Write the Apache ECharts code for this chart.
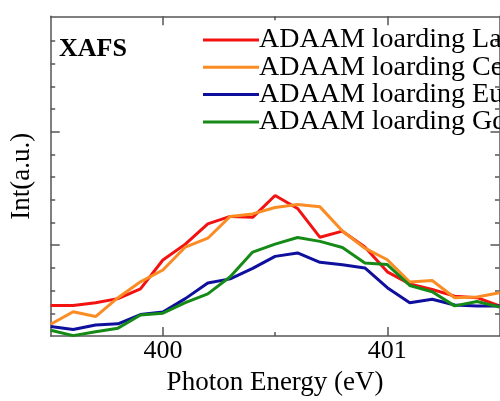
<!DOCTYPE html>
<html>
<head>
<meta charset="utf-8">
<script src="https://cdn.jsdelivr.net/npm/echarts@6/dist/echarts.min.js"></script>
<style>html,body{margin:0;padding:0;background:#fff;}#c{width:500px;height:401px;}</style>
</head>
<body>
<div id="c"></div>
<script>
// Photon energy (eV), 0.1 eV steps
const energy = [399.5,399.6,399.7,399.8,399.9,400.0,400.1,400.2,400.3,400.4,400.5,400.6,400.7,400.8,400.9,401.0,401.1,401.2,401.3,401.4,401.5];
// Intensity (a.u.)
const la = [1.35,1.35,1.47,1.65,2.08,3.35,4.05,4.94,5.27,5.23,6.19,5.62,4.35,4.62,3.92,2.83,2.30,2.05,1.76,1.69,1.33];
const ce = [0.52,1.07,0.86,1.69,2.39,2.91,3.92,4.31,5.27,5.38,5.66,5.79,5.69,4.63,3.87,3.36,2.38,2.45,1.69,1.72,1.91];
const eu = [0.42,0.29,0.49,0.54,0.95,1.06,1.65,2.34,2.52,2.98,3.51,3.66,3.25,3.14,3.00,2.13,1.47,1.62,1.37,1.33,1.33];
const gd = [0.26,0.02,0.19,0.35,0.93,1.01,1.47,1.86,2.61,3.70,4.05,4.34,4.17,3.90,3.22,3.15,2.23,1.95,1.33,1.52,1.28];
const seriesNames = ['ADAAM loarding La','ADAAM loarding Ce','ADAAM loarding Eu','ADAAM loarding Gd'];
const seriesColors = ['#f21212','#fb8c23','#0f0f9e','#168a16'];
const xMajorTicks = [400, 401];
const xMinorTicks = [400.5];
const yMajorTicks = [4, 9];
const yMinorTicks = [1,2,3,5,6,7,8,10,11,12,13];

const FONT = '"Liberation Serif","Times New Roman",serif';
const axisColor = '#555';
const X_MIN = 399.5, X_MAX = 401.5, Y_MIN = 0, Y_MAX = 14.08;

function xAx(pos, ticks, len, showLine, labels) {
  return {
    type: 'value', position: pos, min: X_MIN, max: X_MAX,
    axisLine: { show: showLine, onZero: false, lineStyle: { color: axisColor, width: 1.5 } },
    axisTick: { show: true, inside: true, length: len, customValues: ticks, lineStyle: { color: axisColor, width: 1.5 } },
    axisLabel: labels ? { show: true, customValues: xMajorTicks, margin: 2, color: '#000', fontFamily: FONT, fontSize: 26 } : { show: false },
    splitLine: { show: false }
  };
}
function yAx(pos, ticks, len, showLine) {
  return {
    type: 'value', position: pos, min: Y_MIN, max: Y_MAX,
    axisLine: { show: showLine, onZero: false, lineStyle: { color: axisColor, width: 1.5 } },
    axisTick: { show: true, inside: true, length: len, customValues: ticks, lineStyle: { color: axisColor, width: 1.5 } },
    axisLabel: { show: false },
    splitLine: { show: false }
  };
}

const xAxes = [
  Object.assign(xAx('bottom', xMajorTicks, 9, true, true), {
    name: 'Photon Energy (eV)', nameLocation: 'middle', nameGap: 29,
    nameTextStyle: { color: '#000', fontFamily: FONT, fontSize: 27 }
  }),
  xAx('bottom', xMinorTicks, 4, false, false),
  xAx('top', xMajorTicks, 9, true, false),
  xAx('top', xMinorTicks, 4, false, false)
];
const yAxes = [
  Object.assign(yAx('left', yMajorTicks, 9, true), {
    name: 'Int(a.u.)', nameLocation: 'middle', nameGap: 15,
    nameTextStyle: { color: '#000', fontFamily: FONT, fontSize: 27 }
  }),
  yAx('left', yMinorTicks, 4.5, false),
  yAx('right', yMajorTicks, 9, true),
  yAx('right', yMinorTicks, 4.5, false)
];

const dataSets = [la, ce, eu, gd];
const series = dataSets.map((arr, i) => ({
  name: seriesNames[i], type: 'line', symbol: 'none', clip: false,
  xAxisIndex: 0, yAxisIndex: 0,
  data: energy.map((e, k) => [e, arr[k]]),
  lineStyle: { color: seriesColors[i], width: 3 },
  itemStyle: { color: seriesColors[i] },
  animation: false
}));

const chart = echarts.init(document.getElementById('c'), null, { renderer: 'canvas' });
chart.setOption({
  animation: false,
  backgroundColor: '#fff',
  grid: { left: 50.7, top: 16.3, right: 0.5, bottom: 62.3, containLabel: false },
  xAxis: xAxes,
  yAxis: yAxes,
  legend: {
    orient: 'vertical', left: 203, top: 26, padding: 0, itemGap: -0.7,
    itemWidth: 56, itemHeight: 3, icon: 'rect',
    textStyle: { color: '#000', fontFamily: FONT, fontSize: 28, padding: [0, 0, 0, -5] },
    data: seriesNames
  },
  graphic: [{
    type: 'text', left: 59, top: 36,
    style: { text: 'XAFS', fill: '#000', font: 'bold 26px ' + FONT }
  }],
  series: series
});
</script>
</body>
</html>
